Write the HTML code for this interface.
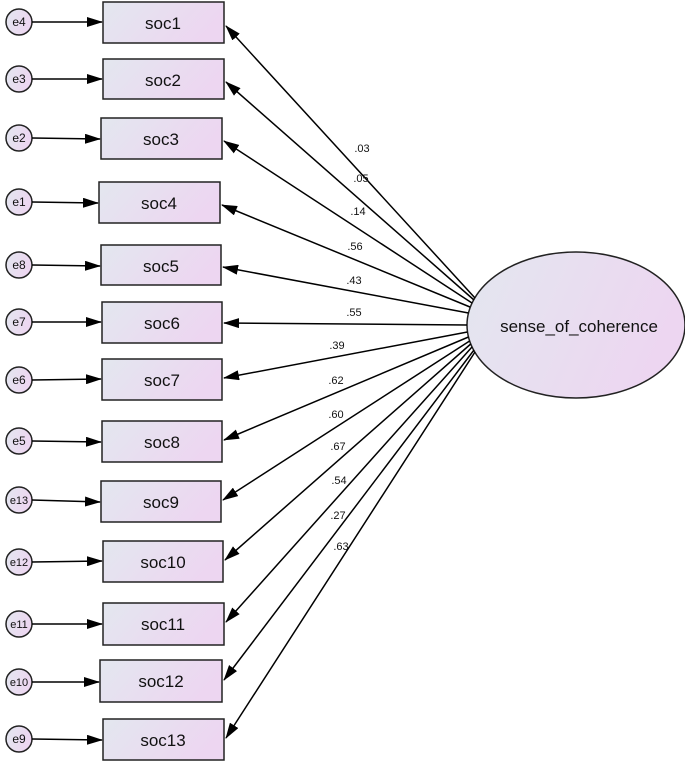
<!DOCTYPE html>
<html><head><meta charset="utf-8"><style>
html,body{margin:0;padding:0;background:#fff;}
svg{display:block;font-family:"Liberation Sans",Arial,sans-serif;}
</style></head><body>
<svg width="685" height="763" viewBox="0 0 685 763" xmlns="http://www.w3.org/2000/svg">
<defs>
<linearGradient id="g" x1="0" y1="0" x2="1" y2="0.3">
<stop offset="0" stop-color="#e3e7ef"/><stop offset="1" stop-color="#edd6f1"/>
</linearGradient>
<marker id="a" markerWidth="16" markerHeight="10" refX="15" refY="5" orient="auto" markerUnits="userSpaceOnUse">
<path d="M0,0 L16,5 L0,10 Z" fill="#000"/>
</marker>
</defs>
<g stroke="#222" stroke-width="1.5" fill="url(#g)">
<rect x="103" y="2" width="121" height="41"/>
<rect x="103" y="59" width="121" height="40"/>
<rect x="101" y="118" width="121" height="41"/>
<rect x="99" y="182" width="121" height="41"/>
<rect x="101" y="245" width="120" height="40"/>
<rect x="102" y="302" width="120" height="41"/>
<rect x="102" y="359" width="120" height="41"/>
<rect x="102" y="421" width="120" height="41"/>
<rect x="101" y="481" width="120" height="41"/>
<rect x="103" y="541" width="120" height="41"/>
<rect x="103" y="603" width="121" height="42"/>
<rect x="100" y="660" width="122" height="42"/>
<rect x="103" y="719" width="121" height="41"/>
<ellipse cx="576" cy="325" rx="109" ry="73"/>
<circle cx="19" cy="22" r="13"/><circle cx="19" cy="79" r="13"/><circle cx="19" cy="138" r="13"/>
<circle cx="19" cy="202" r="13"/><circle cx="19" cy="265" r="13"/><circle cx="19" cy="322" r="13"/>
<circle cx="19" cy="380" r="13"/><circle cx="19" cy="441" r="13"/><circle cx="19" cy="500" r="13"/>
<circle cx="19" cy="562" r="13"/><circle cx="19" cy="624" r="13"/><circle cx="19" cy="682" r="13"/>
<circle cx="19" cy="739" r="13"/>
</g>
<g stroke="#000" stroke-width="1.5" marker-end="url(#a)">
<line x1="32" y1="22" x2="102" y2="22"/><line x1="32" y1="79" x2="102" y2="79"/>
<line x1="32" y1="138" x2="100" y2="139"/><line x1="32" y1="202" x2="98" y2="203"/>
<line x1="32" y1="265" x2="100" y2="266"/><line x1="32" y1="322" x2="101" y2="322"/>
<line x1="32" y1="380" x2="101" y2="379"/><line x1="32" y1="441" x2="101" y2="442"/>
<line x1="32" y1="500" x2="100" y2="502"/><line x1="32" y1="562" x2="102" y2="561"/>
<line x1="32" y1="624" x2="102" y2="624"/><line x1="32" y1="682" x2="99" y2="682"/>
<line x1="32" y1="739" x2="102" y2="740"/>
<line x1="475" y1="298" x2="226" y2="26"/>
<line x1="474" y1="300" x2="226" y2="82"/>
<line x1="472" y1="303" x2="224" y2="141"/>
<line x1="470" y1="307" x2="222" y2="205"/>
<line x1="468.5" y1="313" x2="223" y2="267"/>
<line x1="467" y1="325" x2="224" y2="323"/>
<line x1="467.4" y1="332" x2="224" y2="378"/>
<line x1="468.5" y1="337" x2="224" y2="440"/>
<line x1="469.6" y1="341" x2="223" y2="500"/>
<line x1="470.7" y1="344" x2="225" y2="560"/>
<line x1="472" y1="347" x2="226" y2="622"/>
<line x1="474" y1="350" x2="224" y2="680"/>
<line x1="475" y1="352" x2="226" y2="738"/>
</g>
<g font-size="17" text-anchor="middle" fill="#111">
<text x="163" y="29">soc1</text><text x="163" y="86">soc2</text><text x="161" y="145">soc3</text>
<text x="159" y="209">soc4</text><text x="161" y="272">soc5</text><text x="162" y="329">soc6</text>
<text x="162" y="386">soc7</text><text x="162" y="448">soc8</text><text x="161" y="508">soc9</text>
<text x="163" y="568">soc10</text><text x="163" y="630">soc11</text><text x="161" y="687">soc12</text>
<text x="163" y="746">soc13</text>
<text x="579" y="332" font-size="17">sense_of_coherence</text>
</g>
<g font-size="12" text-anchor="middle" fill="#111">
<text x="19" y="26">e4</text><text x="19" y="83">e3</text><text x="19" y="142">e2</text>
<text x="19" y="206">e1</text><text x="19" y="269">e8</text><text x="19" y="326">e7</text>
<text x="19" y="384">e6</text><text x="19" y="445">e5</text><text x="19" y="504" font-size="11">e13</text>
<text x="19" y="566" font-size="11">e12</text><text x="19" y="628" font-size="11">e11</text><text x="19" y="686" font-size="11">e10</text>
<text x="19" y="743">e9</text>
</g>
<g font-size="11" text-anchor="middle" fill="#111">
<text x="362" y="152">.03</text><text x="361" y="182">.05</text><text x="358" y="215">.14</text>
<text x="355" y="250">.56</text><text x="354" y="284">.43</text><text x="354" y="316">.55</text>
<text x="337" y="349">.39</text><text x="336" y="384">.62</text><text x="336" y="418">.60</text>
<text x="338" y="450">.67</text><text x="339" y="484">.54</text><text x="338" y="519">.27</text>
<text x="341" y="550">.63</text>
</g>
</svg>
</body></html>
